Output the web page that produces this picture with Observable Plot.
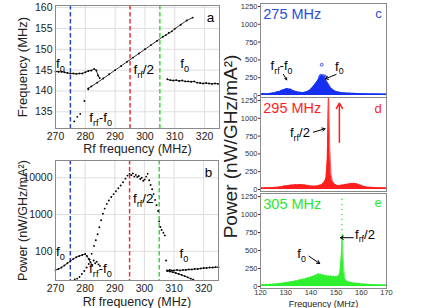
<!DOCTYPE html>
<html><head><meta charset="utf-8">
<script src="https://cdn.jsdelivr.net/npm/d3@7"></script>
<script src="https://cdn.jsdelivr.net/npm/@observablehq/plot@0.6"></script>
<style>
html,body{margin:0;padding:0;background:#fff;}
#chart{position:relative;width:436px;height:308px;overflow:hidden;}
#chart svg{position:absolute;overflow:visible;background:transparent;}
</style></head><body><div id="chart"></div>
<script>
const FONT = '"Liberation Sans", Arial, Helvetica, sans-serif';

// ---- tick labels / categories ----
const rfTicks = [270, 280, 290, 300, 310, 320];
const freqTicks = [135, 140, 145, 150, 155, 160];
const powTicks = [100, 1000, 10000];
const specTicks = [0, 250, 500, 750, 1000, 1250];
const specFreqTicks = [120, 130, 140, 150, 160, 170];
const markerRf = [275, 295, 305];

// ---- panel a: oscillation frequency vs rf frequency ----
const aF0LeftRf = [270, 271, 272, 273, 274, 275, 276, 277, 278, 279, 280, 281, 282, 283, 283.7, 284.3, 284.8];
const aF0LeftFreq = [144.7, 144.6, 144.6, 144.5, 144.3, 144.2, 144.2, 144.1, 144.2, 144.2, 144.5, 144.8, 144.9, 145.3, 144.9, 143.7, 143.1];
const aF0RightRf = [307.5, 308.5, 309.5, 310.5, 311.5, 312.5, 313.5, 314.5, 315.5, 316.5, 317.5, 318.5, 319.5, 320.5, 321.5, 322.5, 323.5, 324.5];
const aF0RightFreq = [142.8, 142.6, 142.5, 142.6, 142.4, 142.5, 142.3, 142.3, 142.2, 142.3, 142.0, 141.9, 141.8, 141.9, 141.8, 141.7, 141.8, 141.7];
const aHalfRf = [281, 282, 284, 286, 288, 290, 292, 294, 296, 298, 300, 302, 304, 306, 307, 308, 309, 310, 312, 314, 316];
const aHalfFreq = [140.6, 141.1, 142.0, 143.0, 144.0, 145.0, 146.0, 147.0, 148.0, 149.0, 150.0, 151.0, 152.0, 153.0, 153.4, 153.9, 154.3, 154.9, 155.9, 156.9, 157.6];
const aDiffRf = [276.3, 277.3, 278.3, 279.7, 281.0];
const aDiffFreq = [132.7, 133.8, 134.5, 137.6, 140.4];

// ---- panel b: power vs rf frequency ----
const bF0LeftRf = [270, 271, 272, 273, 274, 275, 276, 277, 278, 279, 280, 280.6, 281.2, 281.8, 282.4];
const bF0LeftPow = [31, 33, 36, 41, 47, 54, 62, 69, 74, 79, 84, 74, 62, 50, 42];
const bRiseRf = [281.5, 282.2, 283, 283.6, 284.2, 284.8, 285.4, 286, 286.6, 287.3, 288, 288.8, 289.6, 290.4, 291.2, 292, 292.8, 293.6, 294.3, 295];
const bRisePow = [60, 85, 140, 200, 290, 450, 700, 1050, 1450, 1950, 2400, 3000, 3600, 4300, 5200, 6200, 7600, 9500, 11500, 12800];
const bTopRf = [295.6, 296.1, 296.6, 297.1, 297.6, 298.1, 298.6, 299.1, 299.6, 300.1, 300.6, 301.1, 301.6, 302.1, 302.6, 303.1, 303.6, 304.1, 304.6, 305.0, 305.4, 305.8, 306.4, 306.9, 307.3];
const bTopPow = [11800, 13200, 10800, 12000, 10500, 11200, 9300, 10000, 8300, 9000, 10800, 12800, 8600, 6400, 4900, 3600, 2500, 1800, 1250, 650, 460, 380, 320, 270, 56];
const bCrossRf = [282.9, 283.4, 283.9, 284.5, 285.0];
const bCrossPow = [56, 47, 52, 44, 40];
const bF0RightRf = [307.8, 308.5, 309.2, 310, 311, 312, 313, 314, 315, 316, 317, 318, 319, 320, 321, 322, 323, 324, 325];
const bF0RightPow = [29, 31, 30, 30, 31, 30, 31, 31, 32, 32, 33, 33, 34, 35, 35, 36, 36, 37, 37];
const bDiffRightRf = [307.6, 308.6, 309.6, 310.6, 311.6, 312.6, 313.6, 314.6, 315.6, 316.5];
const bDiffRightPow = [30, 28, 27, 25.5, 24, 22.5, 21, 19.5, 18, 16.8];
const bDiffLeftRf = [276.5, 277.3, 278.1, 278.9, 279.7, 280.5, 281.2];
const bDiffLeftPow = [17, 18, 20, 24, 29, 36, 45];

// ---- panels c, d, e: spectra, 120..170 MHz every 0.5 MHz ----
const specFreq = d3.range(120, 170.001, 0.5);
const spec275 = [
  28,22,30,25,27,21,29,26,33,30,
  38,35,44,48,55,52,66,72,80,86,
  92,98,95,88,90,78,70,64,58,52,
  48,44,46,40,42,45,48,55,62,75,
  90,108,130,150,175,200,230,255,270,280,
  262,240,215,190,160,130,105,90,78,65,
  58,52,48,44,42,38,40,36,35,33,
  34,31,30,32,28,30,27,29,26,28,
  25,27,24,26,23,25,24,22,25,23,
  24,21,23,22,24,21,22,20,22,21,
  20];
const spec275PeakFreq = [143.6, 144.0, 144.3, 144.8, 145.3, 145.9];
const spec275PeakPow = [262, 280, 432, 272, 270, 258];
const spec295 = [
  22,26,20,25,23,27,21,26,24,28,
  25,30,28,33,31,36,40,38,45,48,
  52,50,58,55,62,60,66,63,70,65,
  68,72,66,70,64,68,60,58,55,52,
  48,50,45,47,50,48,55,60,65,75,
  90,115,160,420,1400,560,210,120,90,75,
  65,55,58,52,60,64,62,70,74,72,
  80,78,85,82,88,84,80,76,70,64,
  55,50,44,40,36,33,30,32,28,30,
  26,28,25,27,24,26,23,25,22,24,
  22];
const spec305 = [
  25,20,28,22,26,30,24,28,32,27,
  34,30,36,33,40,37,44,42,50,47,
  55,52,60,58,66,63,72,70,80,76,
  88,85,95,92,105,100,115,110,125,118,
  135,128,150,140,165,155,185,160,172,150,
  165,145,158,140,150,135,148,132,145,130,
  140,135,150,180,380,730,260,110,80,70,
  62,58,55,50,48,45,44,40,40,37,
  36,34,33,31,30,29,28,27,27,25,
  26,24,25,23,24,22,23,21,22,21,
  20];
const spec305SpikeFreq = [152.3, 152.3, 152.3, 152.3, 152.3, 152.3, 152.3];
const spec305SpikePow = [790, 860, 930, 1000, 1070, 1140, 1210];

// ---- styles ----
const BLUE_LINE = "#2846c8", RED_LINE = "#e8343a", GREEN_LINE = "#3ad83a";
const BLUE = "#1530f0", BLUE_TXT = "#2a50d8";
const RED = "#ff1e1e", GREEN = "#2ef02e", GREEN_TXT = "#2ee62e";
const markerColors = [BLUE_LINE, RED_LINE, GREEN_LINE];

const zip = (xs, ys) => xs.map((x, i) => ({x, y: ys[i]}));
const chart = document.getElementById("chart");
function place(svg, left, top) { svg.style.left = left + "px"; svg.style.top = top + "px"; chart.append(svg); }

// text with subscripts, positioned through the plot's scales
function rich(labels, defaults = {}) {
  return (index, scales) => {
    const g = d3.create("svg:g").attr("font-family", FONT);
    for (const L of labels) {
      const fs = L.size ?? defaults.size ?? 13;
      const t = g.append("text")
        .attr("x", scales.x(L.x)).attr("y", scales.y(L.y))
        .attr("font-size", fs).attr("fill", L.fill ?? defaults.fill ?? "black")
        .attr("text-anchor", L.anchor ?? "start");
      let down = false;
      for (const p of L.parts) {
        const sub = Array.isArray(p);
        const sp = t.append("tspan").text(sub ? p[0] : p);
        if (sub) { sp.attr("font-size", fs * 0.68); if (!down) { sp.attr("dy", fs * 0.28); down = true; } }
        else if (down) { sp.attr("dy", -fs * 0.28); down = false; }
      }
    }
    return g.node();
  };
}
const markerRules = () => markerRf.map((v, i) => Plot.ruleX([v], {stroke: markerColors[i], strokeWidth: 1.5, strokeDasharray: "4.5,2.5"}));
const dotsLine = (data, line = true) => [
  ...(line ? [Plot.line(data, {x: "x", y: "y", stroke: "black", strokeWidth: 0.8})] : []),
  Plot.dot(data, {x: "x", y: "y", r: 0.95, fill: "black"})
];
const leftStyle = {fontFamily: FONT, fontSize: "10.5px", color: "#222", background: "transparent", overflow: "visible"};
const xTitle = (s, dy, size) => Plot.text([s], {frameAnchor: "bottom", dy, fontSize: size, text: d => d, fill: "#222", lineAnchor: "middle", textAnchor: "middle"});
const yTitle = (s, dx, size, dy = 0) => Plot.text([s], {frameAnchor: "left", dx, dy, rotate: -90, fontSize: size, text: d => d, fill: "#222", lineAnchor: "middle", textAnchor: "middle"});

// ---- panel a ----
const aNotes = [
  {x: 270.3, y: 145.3, parts: ["f", ["0"]]},
  {x: 296.3, y: 143.9, parts: ["f", ["rf"], "/2"]},
  {x: 312, y: 145.3, parts: ["f", ["0"]]},
  {x: 281.5, y: 132.5, parts: ["f", ["rf"], "-f", ["0"]]},
  {x: 323.4, y: 156.5, parts: ["a"], anchor: "end"}
];
place(Plot.plot({
  width: 222, height: 155, marginLeft: 55, marginRight: 3, marginTop: 5, marginBottom: 27,
  style: leftStyle,
  x: {domain: [270, 325], ticks: rfTicks, tickSize: 0, tickPadding: 4, label: null, tickFormat: d => String(d)},
  y: {domain: [131, 160.5], ticks: freqTicks, tickSize: 0, tickPadding: 3, label: null},
  marks: [
    Plot.gridX(rfTicks, {stroke: "#dedede", strokeOpacity: 1}),
    Plot.gridY(freqTicks, {stroke: "#dedede", strokeOpacity: 1}),
    ...markerRules(),
    ...dotsLine(zip(aF0LeftRf, aF0LeftFreq)),
    ...dotsLine(zip(aF0RightRf, aF0RightFreq)),
    ...dotsLine(zip(aHalfRf, aHalfFreq)),
    ...dotsLine(zip(aDiffRf, aDiffFreq), false),
    Plot.frame({stroke: "#8a8a8a"}),
    xTitle("Rf frequency (MHz)", 20, 12.5),
    yTitle("Frequency (MHz)", -33, 13),
    rich(aNotes, {size: 13.5})
  ]
}), 0, 0);

// ---- panel b ----
const bNotes = [
  {x: 270.3, y: 72, parts: ["f", ["0"]]},
  {x: 296.3, y: 1960, parts: ["f", ["rf"], "/2"]},
  {x: 312, y: 62, parts: ["f", ["0"]]},
  {x: 281.5, y: 24.3, parts: ["f", ["rf"], "-f", ["0"]]},
  {x: 323.1, y: 10370, parts: ["b"], anchor: "end"}
];
place(Plot.plot({
  width: 222, height: 153, marginLeft: 55, marginRight: 4, marginTop: 5, marginBottom: 28,
  style: leftStyle,
  x: {domain: [270, 325], ticks: rfTicks, tickSize: 0, tickPadding: 4, label: null, tickFormat: d => String(d)},
  y: {type: "log", domain: [16, 29600], ticks: powTicks, tickSize: 0, tickPadding: 3, label: null, tickFormat: d => String(d)},
  marks: [
    Plot.gridX(rfTicks, {stroke: "#dedede", strokeOpacity: 1}),
    Plot.gridY(powTicks, {stroke: "#dedede", strokeOpacity: 1}),
    ...markerRules(),
    ...dotsLine(zip(bF0LeftRf, bF0LeftPow)),
    ...dotsLine(zip(bRiseRf, bRisePow), false),
    ...dotsLine(zip(bTopRf, bTopPow), false),
    ...dotsLine(zip(bCrossRf, bCrossPow), false),
    ...dotsLine(zip(bF0RightRf, bF0RightPow)),
    ...dotsLine(zip(bDiffRightRf, bDiffRightPow)),
    ...dotsLine(zip(bDiffLeftRf, bDiffLeftPow), false),
    Plot.frame({stroke: "#8a8a8a"}),
    xTitle("Rf frequency (MHz)", 21, 12.5),
    yTitle("Power (nW/GHz/mA²)", -33, 12.5),
    rich(bNotes, {size: 13.5})
  ]
}), 0, 155);

// ---- spectra panels ----
function specPanel({top, height, marginBottom, values, color, notes, arrows, showX, extra = []}) {
  const data = specFreq.map((x, i) => ({x, y: values[i]}));
  return place(Plot.plot({
    width: 221, height, marginLeft: 45, marginRight: 50, marginTop: 3, marginBottom,
    style: {fontFamily: FONT, fontSize: "7.5px", color: "#333", background: "transparent", overflow: "visible"},
    x: {domain: [120, 170], ticks: specFreqTicks, tickSize: 0, tickPadding: 1, label: null, axis: showX ? "bottom" : null, tickFormat: d => String(d)},
    y: {domain: [-28, 1292], ticks: specTicks, tickSize: 2, tickPadding: 1, label: null, tickFormat: d => String(d)},
    marks: [
      Plot.areaY(data, {x: "x", y: "y", fill: color, clip: true}),
      Plot.lineY(data, {x: "x", y: "y", stroke: color, strokeWidth: 0.7, clip: true}),
      ...extra,
      Plot.frame({stroke: "#8a8a8a"}),
      Plot.arrow(arrows, {x1: "x1", y1: "y1", x2: "x2", y2: "y2", stroke: "black", strokeWidth: 1, headLength: 5}),
      rich(notes, {size: 13})
    ]
  }), 215, top);
}

specPanel({
  top: 0, height: 100, marginBottom: 3, values: spec275, color: BLUE,
  notes: [
    {x: 121.3, y: 1063, parts: ["275 MHz"], size: 14.5, fill: BLUE_TXT},
    {x: 168.3, y: 1077, parts: ["c"], anchor: "end", fill: BLUE_TXT},
    {x: 124.2, y: 351, parts: ["f", ["rf"], "-f", ["0"]]},
    {x: 149.8, y: 341, parts: ["f", ["0"]]}
  ],
  arrows: [{x1: 129.1, y1: 296, x2: 130.4, y2: 220}, {x1: 150, y1: 296, x2: 145.7, y2: 234}],
  extra: [Plot.dot(zip(spec275PeakFreq, spec275PeakPow), {x: "x", y: "y", r: 1.4, stroke: BLUE, strokeWidth: 0.8})]
});

specPanel({
  top: 94, height: 100, marginBottom: 3, values: spec295, color: RED,
  notes: [
    {x: 121.3, y: 1063, parts: ["295 MHz"], size: 14.5, fill: RED},
    {x: 168.3, y: 1072, parts: ["d"], anchor: "end", fill: RED},
    {x: 131.9, y: 726, parts: ["f", ["rf"], "/2"]}
  ],
  arrows: [{x1: 141, y1: 805, x2: 145.6, y2: 853}],
  extra: [
    Plot.arrow([{x1: 151.3, y1: 664, x2: 151.3, y2: 1212}], {x1: "x1", y1: "y1", x2: "x2", y2: "y2", stroke: RED, strokeWidth: 1.5, headLength: 6}),
    yTitle("Power (nW/GHz/mA²)", -30, 19, 2)
  ]
});

specPanel({
  top: 190, height: 118, marginBottom: 20, values: spec305, color: GREEN, showX: true,
  notes: [
    {x: 121.3, y: 1067, parts: ["305 MHz"], size: 14.5, fill: GREEN_TXT},
    {x: 168.3, y: 1091, parts: ["e"], anchor: "end", fill: GREEN_TXT},
    {x: 157.7, y: 656, parts: ["f", ["rf"], "/2"]},
    {x: 134.8, y: 389, parts: ["f", ["0"]]}
  ],
  arrows: [{x1: 156.8, y1: 678, x2: 151.7, y2: 678}, {x1: 139.2, y1: 421, x2: 143.5, y2: 319}],
  extra: [
    Plot.dot(zip(spec305SpikeFreq, spec305SpikePow), {x: "x", y: "y", r: 0.8, fill: GREEN}),
    xTitle("Frequency (MHz)", 16, 9)
  ]
});
</script></body></html>
